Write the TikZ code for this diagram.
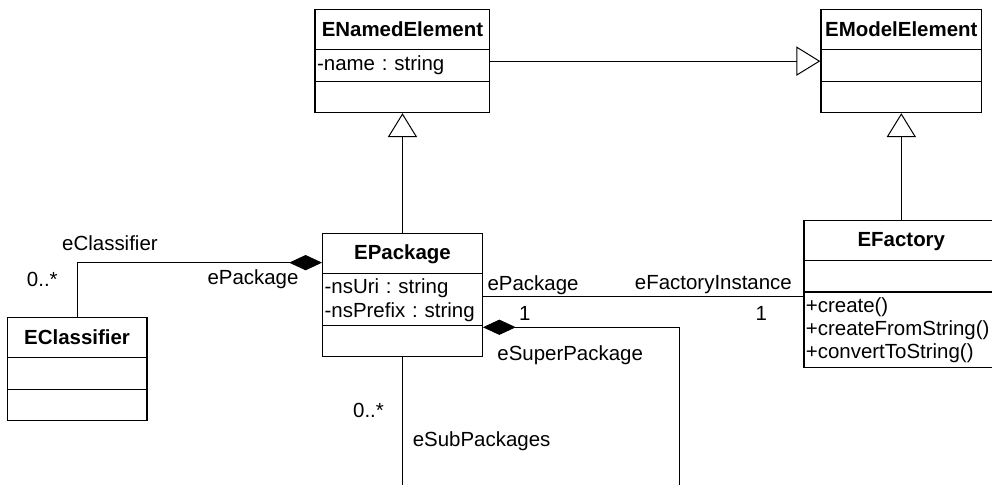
\documentclass[tikz,border=0pt]{standalone}
\usepackage{fontspec}
\setmainfont{Liberation Sans}
\usepackage{tikz}
\usepackage{pgf-umlcd}
\usetikzlibrary{arrows.meta}

\renewcommand{\umlfillcolor}{white}
\renewcommand{\umldrawcolor}{black}

\tikzset{
  eclass/.style={inner xsep=1.5pt, inner ysep=2.65pt, line width=0.9pt, execute at begin node=\strut,
    every text node part/.append style={font=\fontsize{15.4}{23.9}\selectfont}},
  inheritline/.style={line width=0.75pt, -{Triangle[open, length=18pt, width=22pt]}},
  compline/.style={line width=0.75pt, -{Diamond[length=24.75pt, width=11.5pt]}},
  assocline/.style={line width=0.75pt},
  role/.style={inner sep=0pt}
}

\begin{document}
\fontsize{15.4}{17.5}\selectfont\frenchspacing
\begin{tikzpicture}
  \useasboundingbox (0,0) rectangle (26.25,-12.81);

  \begin{class}[eclass, text width=4.52cm]{ENamedElement}{10.65,-0.24}
    \attribute{-name : string}
  \end{class}

  \begin{class}[eclass, text width=4.15cm]{EModelElement}{23.85,-0.24}
  \end{class}

  \begin{class}[eclass, text width=4.12cm]{EPackage}{10.65,-6.16}
    \attribute{-nsUri : string}
    \attribute{-nsPrefix : string}
  \end{class}

  \begin{class}[eclass, text width=3.59cm]{EClassifier}{2.04,-8.39}
  \end{class}

  \begin{class}[eclass, text width=5.05cm]{EFactory}{23.85,-5.82}
    \operation{+create()}
    \operation{+createFromString()}
    \operation{+convertToString()}
  \end{class}

  \draw[inheritline] (ENamedElement.east) -- (ENamedElement.east -| EModelElement.west);
  \draw[inheritline] (EPackage) -- (ENamedElement);
  \draw[inheritline] (EFactory) -- (EModelElement);

  \draw[compline] (EClassifier.north) |- ([yshift=-0.79cm]EPackage.north west)
    node[pos=0.5, role, above, xshift=0.87cm, yshift=0.30cm] {eClassifier}
    node[pos=0.5, role, below left, xshift=-0.5cm, yshift=-0.24cm] {0..*}
    node[pos=1, role, below left, xshift=-0.61cm, yshift=-0.16cm] {ePackage};

  \coordinate (pkgout) at ([yshift=-0.6cm]EPackage.text split east);
  \draw[assocline] (pkgout) -- (pkgout -| EFactory.west)
    node[pos=0, role, above right, xshift=0.11cm, yshift=0.02cm] {ePackage}
    node[pos=0, role, below, xshift=1.11cm, yshift=-0.26cm] {1}
    node[pos=1, role, above left, xshift=-0.29cm, yshift=0.04cm] {eFactoryInstance}
    node[pos=1, role, below, xshift=-1.11cm, yshift=-0.26cm] {1};

  \draw[compline] (EPackage.south) -- ++(0,-6cm)
    node[pos=0, role, below left, xshift=-0.48cm, yshift=-1.19cm] {0..*}
    node[pos=0, role, below right, xshift=0.26cm, yshift=-1.96cm] {eSubPackages}
    -| ([xshift=5.21cm, yshift=-0.05cm]EPackage.second split east) -- ([yshift=-0.05cm]EPackage.second split east)
    node[pos=1, role, below right, xshift=0.37cm, yshift=-0.47cm] {eSuperPackage};
\end{tikzpicture}
\end{document}
